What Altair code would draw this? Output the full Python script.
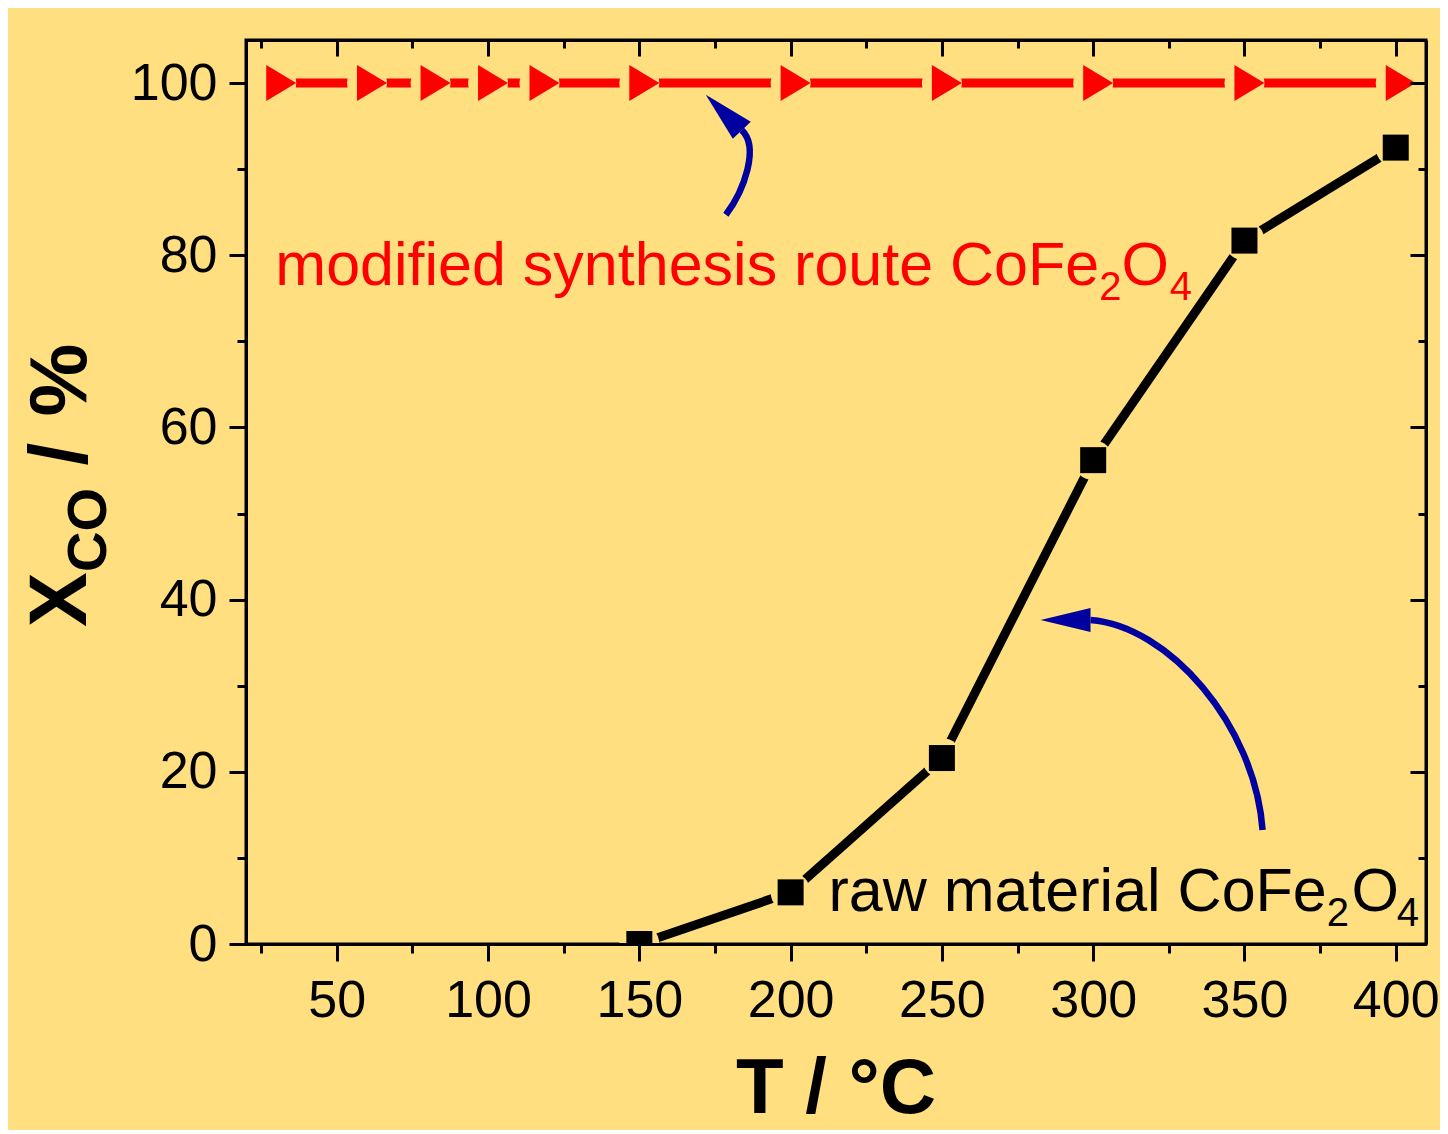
import altair as alt
import pandas as pd

# ---------------- data ----------------
T_MOD = [30, 60, 81, 100, 117, 150, 200, 250, 300, 350, 400]
X_MOD = [100, 100, 100, 100, 100, 100, 100, 100, 100, 100, 100]
T_RAW = [150, 200, 250, 300, 350, 400]
X_RAW = [0, 6.0, 21.6, 56.2, 81.7, 92.5]

X_MAJOR = [50, 100, 150, 200, 250, 300, 350, 400]
X_MINOR = [25, 75, 125, 175, 225, 275, 325, 375]
Y_MAJOR = [0, 20, 40, 60, 80, 100]
Y_MINOR = [10, 30, 50, 70, 90]

# annotation text parts and their anchors (data units)
ANN_TEXT = ["modified synthesis route CoFe", "2", "O", "4",
            "raw material CoFe", "2", "O", "4"]
ANN_X = [302.0, 302.0, 309.4, 325.3, 377.2, 377.2, 385.4, 400.3]
ANN_Y = [76.6, 76.6, 76.6, 76.6, 3.78, 3.78, 3.78, 3.78]
ANN_COLOR = ["#FF0000"] * 4 + ["#000000"] * 4
ANN_KIND = ["main", "sub", "main_l", "sub"] * 2

# curved arrow anchors (data units)
ARROW_X = [179.4, 319.3]
ARROW_Y = [91.67, 26.14]

# ---------------- styles ----------------
BG = "#FFDF80"
RED = "#FF0000"
BLUE = "#0000A0"
FONT = "Liberation Sans"
W, H = 1180, 904

xs = alt.Scale(domain=[20, 410], nice=False, zero=False)
ys = alt.Scale(domain=[0, 105], nice=False, zero=False)


def mk_axis(orient, values, tick, offset=0, labels=False, domain=False, pad=0):
    kw = dict(orient=orient, values=values, tickSize=tick, tickWidth=3,
              tickColor="black", ticks=True, grid=False, title="",
              labels=labels, domain=domain, zindex=1)
    if offset:
        kw["offset"] = offset
    if domain:
        kw.update(domainColor="black", domainWidth=3)
    if labels:
        kw.update(labelFont=FONT, labelFontSize=52, labelColor="black",
                  labelPadding=pad, format="d", labelFlush=False,
                  labelOverlap=False)
    return alt.Axis(**kw)


def enc(xaxis=None, yaxis=None):
    return dict(
        x=alt.X("T:Q", scale=xs, axis=xaxis),
        y=alt.Y("X:Q", scale=ys, axis=yaxis),
    )


mod = pd.DataFrame({"T": T_MOD, "X": X_MOD})
raw = pd.DataFrame({"T": T_RAW, "X": X_RAW})

TRI = "M-0.556,-1L1.111,0L-0.556,1Z"

red_line = alt.Chart(mod).mark_line(
    color=RED, strokeWidth=9, strokeCap="round"
).encode(**enc(mk_axis("bottom", X_MAJOR, 17, labels=True, domain=True, pad=14),
               mk_axis("left", Y_MAJOR, 17, labels=True, domain=True, pad=12)))

red_gap = alt.Chart(mod).mark_point(
    shape="circle", filled=True, color=BG, size=1600, opacity=1, strokeWidth=0
).encode(**enc(mk_axis("bottom", X_MINOR, 9),
               mk_axis("left", Y_MINOR, 9)))

red_pts = alt.Chart(mod).mark_point(
    shape=TRI, filled=True, color=RED, size=1296, opacity=1, strokeWidth=0
).encode(**enc(mk_axis("bottom", X_MAJOR, 16, offset=-H, domain=True),
               mk_axis("left", Y_MAJOR, 16, offset=-W, domain=True)))

blk_line = alt.Chart(raw).mark_line(
    color="black", strokeWidth=9, strokeCap="round", clip=True
).encode(**enc(mk_axis("bottom", X_MINOR, 8, offset=-H),
               mk_axis("left", Y_MINOR, 8, offset=-W)))

blk_gap = alt.Chart(raw).mark_point(
    shape="circle", filled=True, color=BG, size=1600, opacity=1,
    strokeWidth=0, clip=True
).encode(**enc())

blk_pts = alt.Chart(raw).mark_point(
    shape="square", filled=True, color="black", size=676, opacity=1,
    strokeWidth=0, clip=True
).encode(**enc())

ann = pd.DataFrame({"t": ANN_TEXT, "T": ANN_X, "X": ANN_Y,
                    "c": ANN_COLOR, "k": ANN_KIND})
styles = {
    "main": dict(fontSize=61, align="right", dy=0),
    "main_l": dict(fontSize=61, align="left", dy=0),
    "sub": dict(fontSize=40, align="left", dy=15),
}
text_layers = []
for kind, st in styles.items():
    text_layers.append(
        alt.Chart(ann).transform_filter(alt.datum.k == kind).mark_text(
            font=FONT, baseline="alphabetic", **st
        ).encode(**enc(), text="t:N", color=alt.Color("c:N", scale=None))
    )

arrows = pd.DataFrame({"T": ARROW_X, "X": ARROW_Y})
A1_SHAFT = "M-0.04,1C0.27,0.585 0.52,-0.13 0.225,-0.41"
A1_HEAD = "M-0.375,-1L0.375,-0.55L0.075,-0.267Z"
A2_SHAFT = "M1,1C0.93,0.05 0.15,-0.84 -0.55,-0.892"
A2_HEAD = "M-1,-0.892L-0.55,-1L-0.55,-0.784Z"

arrow_layers = []
for i, (shaft, head, size) in enumerate([(A1_SHAFT, A1_HEAD, 14400),
                                         (A2_SHAFT, A2_HEAD, 49284)]):
    one = arrows.iloc[[i]]
    arrow_layers.append(alt.Chart(one).mark_point(
        shape=shaft, filled=False, color=BLUE, size=size, opacity=1,
        strokeWidth=6.5, strokeCap="butt"
    ).encode(**enc()))
    arrow_layers.append(alt.Chart(one).mark_point(
        shape=head, filled=True, color=BLUE, size=size, opacity=1, strokeWidth=0
    ).encode(**enc()))

one_row = pd.DataFrame({"a": [0]})
title_style = dict(font=FONT, fontWeight="bold", color="black", baseline="alphabetic")
x_title = alt.Chart(one_row).mark_text(
    text="T / °C", fontSize=78, align="center", **title_style
).encode(x=alt.value(W / 2), y=alt.value(1073))

y_title = [
    alt.Chart(one_row).mark_text(text="X", fontSize=82, angle=270, align="left",
                                 **title_style).encode(x=alt.value(-160), y=alt.value(587)),
    alt.Chart(one_row).mark_text(text="CO", fontSize=56, angle=270, align="left",
                                 **title_style).encode(x=alt.value(-140), y=alt.value(532)),
    alt.Chart(one_row).mark_text(text="/", fontSize=82, angle=270, align="center",
                                 **title_style).encode(x=alt.value(-160), y=alt.value(414)),
    alt.Chart(one_row).mark_text(text="%", fontSize=82, angle=270, align="center",
                                 **title_style).encode(x=alt.value(-160), y=alt.value(340)),
]

chart = alt.layer(
    red_line, red_gap, red_pts, blk_line, blk_gap, blk_pts,
    *text_layers, *arrow_layers, x_title, *y_title
).resolve_axis(x="independent", y="independent").properties(
    width=W, height=H,
    autosize=alt.AutoSizeParams(type="none"),
    padding={"left": 238, "top": 32, "right": 14, "bottom": 186},
).configure(background=BG).configure_view(stroke="black", strokeWidth=3)

chart.save("out.html", embed_options={"renderer": "svg", "actions": False})
